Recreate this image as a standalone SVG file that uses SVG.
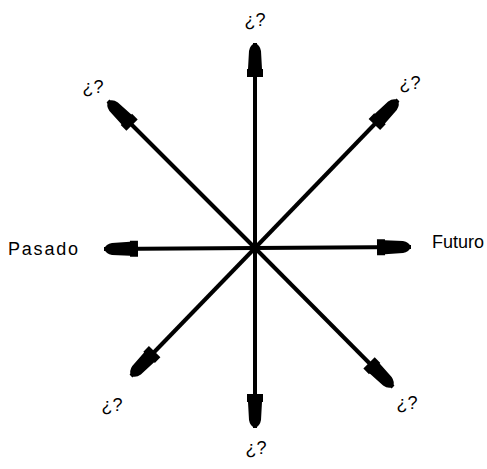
<svg xmlns="http://www.w3.org/2000/svg" width="487" height="469" viewBox="0 0 487 469">
<style>
text{font-family:"Liberation Sans",Arial,sans-serif;font-size:18px;fill:#000}
.c{text-anchor:middle}
line{stroke:#000;stroke-width:4;marker-end:url(#ah)}
</style>
<defs>
<marker id="ah" markerUnits="userSpaceOnUse" markerWidth="40" markerHeight="20" viewBox="-36 -10 38 20" refX="0" refY="0" orient="auto">
<path d="M0,0 Q-2,-5 -8,-6 L-26,-7 L-26,-8 L-34,-8 L-34,8 L-26,8 L-26,7 L-8,6 Q-2,5 0,0 Z" fill="#000"/>
</marker>
</defs>
<rect width="487" height="469" fill="#fff"/>
<g id="connectors">
<line x1="255" y1="248" x2="255" y2="43"/>
<line x1="255" y1="248" x2="255" y2="428"/>
<line x1="255" y1="248" x2="104" y2="249"/>
<line x1="255" y1="248" x2="411" y2="247"/>
<line x1="255" y1="248" x2="108" y2="101"/>
<line x1="255" y1="248" x2="398" y2="100"/>
<line x1="255" y1="248" x2="131" y2="376"/>
<line x1="255" y1="248" x2="393" y2="387"/>
</g>
<g id="n-top"><text class="c" x="255" y="26">¿?</text></g>
<g id="n-bottom"><text class="c" x="256" y="454">¿?</text></g>
<g id="n-left"><text x="8" y="255" textLength="70">Pasado</text></g>
<g id="n-right"><text x="432" y="248">Futuro</text></g>
<g id="n-ul"><text class="c" x="93" y="93">¿?</text></g>
<g id="n-ur"><text class="c" x="410" y="89">¿?</text></g>
<g id="n-ll"><text class="c" x="112" y="411">¿?</text></g>
<g id="n-lr"><text class="c" x="407" y="409">¿?</text></g>
</svg>
